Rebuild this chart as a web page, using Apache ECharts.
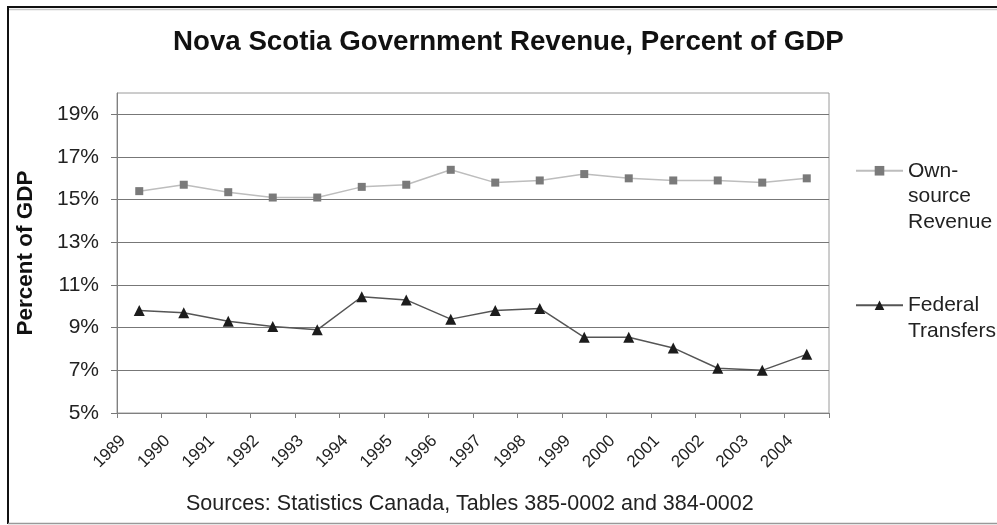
<!DOCTYPE html>
<html>
<head>
<meta charset="utf-8">
<script src="https://cdn.jsdelivr.net/npm/echarts@6/dist/echarts.min.js"></script>
<style>
  html, body { margin: 0; padding: 0; background: #fff; }
  #chart { width: 997px; height: 525px; }
</style>
</head>
<body>
<div id="chart"></div>
<script>
// Fiscal years on the category axis
const years = ['1989', '1990', '1991', '1992', '1993', '1994', '1995', '1996',
               '1997', '1998', '1999', '2000', '2001', '2002', '2003', '2004'];

// Revenue as a percent of GDP
const ownSourceRevenue = [15.4, 15.7, 15.35, 15.1, 15.1, 15.6, 15.7, 16.4,
                          15.8, 15.9, 16.2, 16.0, 15.9, 15.9, 15.8, 16.0];
const federalTransfers = [9.8, 9.7, 9.3, 9.05, 8.9, 10.45, 10.3, 9.4,
                          9.8, 9.9, 8.55, 8.55, 8.05, 7.1, 7.0, 7.75];

// Labelled percent levels on the value axis
const yTicks = [5, 7, 9, 11, 13, 15, 17, 19];

const FONT = '"Liberation Sans", Arial, sans-serif';

const chart = echarts.init(document.getElementById('chart'), null, { renderer: 'canvas' });

chart.setOption({
  backgroundColor: '#fff',
  animation: false,
  textStyle: { fontFamily: FONT },
  title: [
    {
      text: 'Nova Scotia Government Revenue, Percent of GDP',
      left: 173, top: 28, padding: 0,
      textStyle: { fontFamily: FONT, fontSize: 27.7, fontWeight: 'bold', color: '#111' }
    },
    {
      text: 'Sources: Statistics Canada, Tables 385-0002 and 384-0002',
      left: 186, top: 493, padding: 0,
      textStyle: { fontFamily: FONT, fontSize: 21.5, fontWeight: 'normal', color: '#222' }
    }
  ],
  legend: [
    {
      data: ['Own-source Revenue'],
      left: 855, top: 107, padding: 0,
      itemWidth: 47, itemHeight: 12, selectedMode: false,
      // two leading blank lines keep the first word level with the icon
      formatter: () => '\n\nOwn-\nsource\nRevenue',
      textStyle: { fontFamily: FONT, fontSize: 21, color: '#222', lineHeight: 25.5 }
    },
    {
      data: ['Federal Transfers'],
      left: 855, top: 267, padding: 0,
      itemWidth: 47, itemHeight: 12, selectedMode: false,
      formatter: () => '\nFederal\nTransfers',
      textStyle: { fontFamily: FONT, fontSize: 21, color: '#222', lineHeight: 25.5 }
    }
  ],
  grid: {
    left: 117, right: 168, top: 93, bottom: 112,
    show: true, borderColor: '#9a9a9a', borderWidth: 1, backgroundColor: '#fff'
  },
  xAxis: {
    type: 'category',
    data: years,
    boundaryGap: true,
    axisLine: { lineStyle: { color: '#808080', width: 1 } },
    axisTick: { show: true, length: 5, lineStyle: { color: '#808080' } },
    axisLabel: {
      rotate: 45, fontSize: 17, color: '#222', margin: 9,
      padding: [0, 23, 0, 0], interval: 0
    },
    splitLine: { show: false }
  },
  yAxis: {
    type: 'value',
    min: 5, max: 20, interval: 1,
    name: 'Percent of GDP',
    nameLocation: 'middle',
    nameGap: 80,
    nameRotate: 90,
    nameTextStyle: { fontFamily: FONT, fontSize: 22.5, fontWeight: 'bold', color: '#111' },
    axisLine: { show: true, lineStyle: { color: '#808080', width: 1 } },
    axisTick: { show: true, length: 6, customValues: yTicks, lineStyle: { color: '#777' } },
    axisLabel: {
      customValues: yTicks, fontSize: 21, color: '#222', margin: 18,
      formatter: '{value}%'
    },
    splitLine: { show: true, lineStyle: { color: '#777', width: 1 } }
  },
  series: [
    {
      name: 'Own-source Revenue',
      type: 'line',
      data: ownSourceRevenue,
      symbol: 'rect', symbolSize: 8,
      lineStyle: { color: '#bdbdbd', width: 1.5 },
      itemStyle: { color: '#7a7a7a' },
      emphasis: { disabled: true }
    },
    {
      name: 'Federal Transfers',
      type: 'line',
      data: federalTransfers,
      symbol: 'triangle', symbolSize: 11,
      lineStyle: { color: '#555', width: 1.5 },
      itemStyle: { color: '#1c1c1c' },
      emphasis: { disabled: true }
    }
  ],
  graphic: [
    // outer frame of the figure
    { type: 'line', shape: { x1: 7, y1: 7, x2: 997, y2: 7 }, style: { stroke: '#111', lineWidth: 2 }, silent: true },
    { type: 'line', shape: { x1: 9, y1: 9.5, x2: 997, y2: 9.5 }, style: { stroke: '#c8c8c8', lineWidth: 1.5 }, silent: true },
    { type: 'line', shape: { x1: 8, y1: 7, x2: 8, y2: 524 }, style: { stroke: '#111', lineWidth: 2 }, silent: true },
    { type: 'line', shape: { x1: 8, y1: 523.5, x2: 997, y2: 523.5 }, style: { stroke: '#999', lineWidth: 1.5 }, silent: true }
  ]
});
</script>
</body>
</html>
